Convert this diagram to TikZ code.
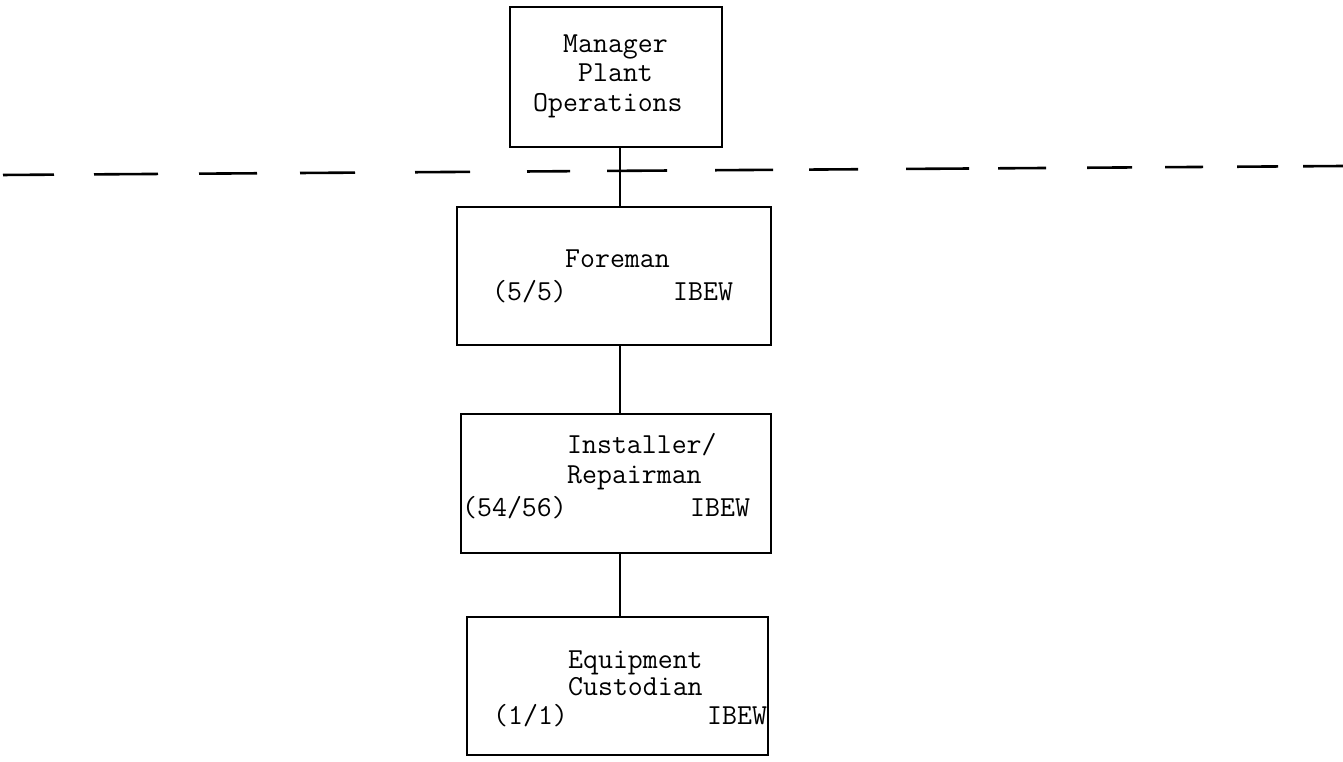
\documentclass[tikz,border=0pt]{standalone}
\usepackage{tikz}

\begin{document}
\begin{tikzpicture}[x=1pt, y=-1pt,
        box/.style={draw, line width=2.4pt, inner sep=0pt},
        txt/.style={anchor=base west, inner sep=0pt,
            font=\fontsize{29}{30}\selectfont\ttfamily},
        link/.style={line width=1.4pt},
        cutline/.style={line width=2.6pt}]
    \useasboundingbox (0,0) rectangle (1343,762);
    % boxes
    \node[box, minimum width=212pt, minimum height=140pt] (mgr) at (616,77) {};
    \node[box, minimum width=314pt, minimum height=138pt] (fore) at (614,276) {};
    \node[box, minimum width=310pt, minimum height=139pt] (inst) at (616,483.5) {};
    \node[box, minimum width=301pt, minimum height=138pt] (equip) at (617.5,686) {};
    % texts
    \node[txt] (mgrA) at (563,53) {Manager};
    \node[txt] (mgrB) at (578,82) {Plant};
    \node[txt] (mgrC) at (533,112) {Operations};
    \node[txt] (foreA) at (565,267) {Foreman};
    \node[txt] (foreN) at (492,300) {(5/5)};
    \node[txt] (foreU) at (673,300) {IBEW};
    \node[txt] (instA) at (567,453) {Installer/};
    \node[txt] (instB) at (567,483) {Repairman};
    \node[txt] (instN) at (462,516) {(54/56)};
    \node[txt] (instU) at (690,516) {IBEW};
    \node[txt] (equipA) at (568,668) {Equipment};
    \node[txt] (equipB) at (568,695) {Custodian};
    \node[txt] (equipN) at (493,724) {(1/1)};
    \node[txt] (equipU) at (707,724) {IBEW};
    % connectors
    \coordinate (axis) at (620,0);
    \draw[link] (mgr.south -| axis) -- (fore.north -| axis);
    \draw[link] (fore.south -| axis) -- (inst.north -| axis);
    \draw[link] (inst.south -| axis) -- (equip.north -| axis);
    % cut line
    \foreach \a/\b in {3/54, 94/158, 199/257, 300/355, 415/470, 527/570,
            607/667, 715/773, 809/858, 906/969, 998/1046, 1087/1132,
            1165/1203, 1237/1278, 1303/1343}
        \draw[cutline] (\a,{175-0.0067*\a}) -- (\b,{175-0.0067*\b});
\end{tikzpicture}
\end{document}
